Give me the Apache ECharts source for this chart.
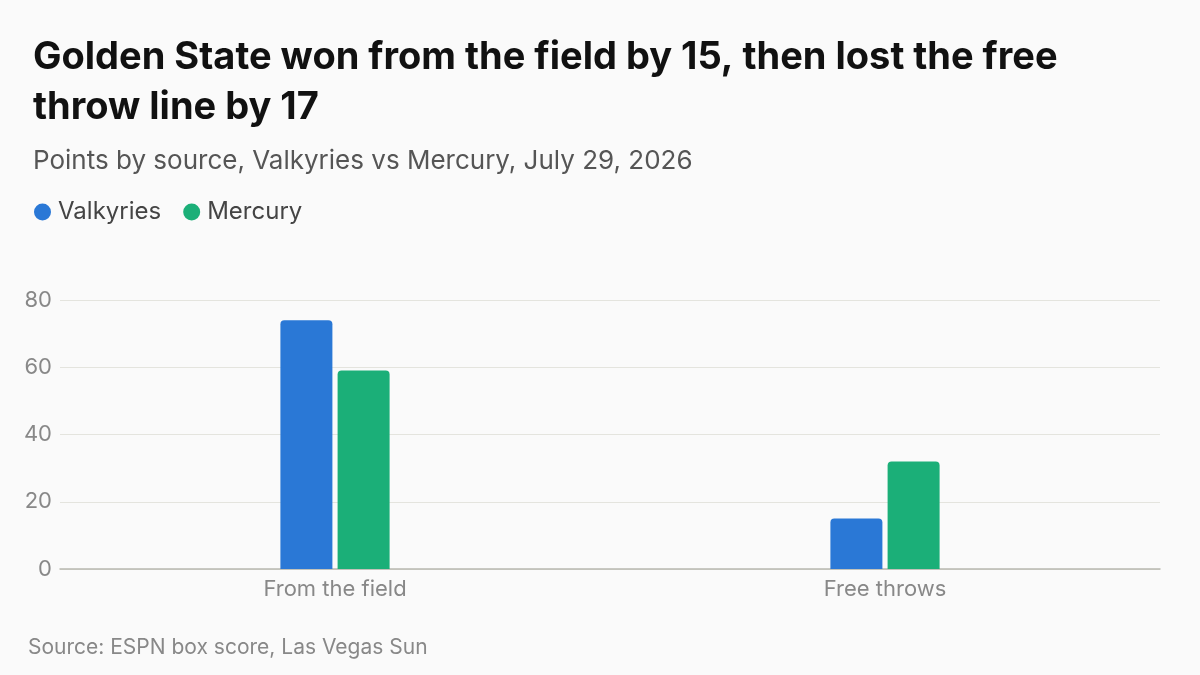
<!DOCTYPE html>
<html><head><meta charset="utf-8">
<script src="https://cdn.jsdelivr.net/npm/echarts@6/dist/echarts.min.js"></script>
<style>html,body{margin:0;padding:0;background:#fafafa;}#c{width:1200px;height:675px;}</style>
</head><body><div id="c"></div>
<script>
const categories = ["From the field", "Free throws"];
const valkyries = [74, 15];
const mercury = [59, 32];
const yTicks = [0, 20, 40, 60, 80];
const FONT = "Inter, 'Noto Sans', sans-serif";
const chart = echarts.init(document.getElementById('c'));
chart.setOption({
  backgroundColor: '#fafafa',
  animation: false,
  title: [
    {text: 'Golden State won from the field by 15, then lost the free\nthrow line by 17', left: 28, top: 28,
     textStyle: {fontFamily: FONT, fontSize: 38, fontWeight: 'bold', color: '#111', lineHeight: 50}},
    {text: 'Points by source, Valkyries vs Mercury, July 29, 2026', left: 28, top: 143,
     textStyle: {fontFamily: FONT, fontSize: 26, fontWeight: 'normal', color: '#555'}},
    {text: 'Source: ESPN box score, Las Vegas Sun', left: 23, top: 632,
     textStyle: {fontFamily: FONT, fontSize: 21, fontWeight: 'normal', color: '#888'}}
  ],
  legend: {left: 29, top: 195, icon: 'circle', itemWidth: 17, itemHeight: 17, itemGap: 22,
    textStyle: {fontFamily: FONT, fontSize: 24, color: '#444', padding: [0,0,0,2]},
    data: ['Valkyries', 'Mercury']},
  grid: {left: 60, right: 40, top: 300, bottom: 106, containLabel: false},
  xAxis: {type: 'category', data: categories,
    axisLine: {lineStyle: {color: '#b8b8b0', width: 1.5}}, axisTick: {show: false},
    axisLabel: {fontFamily: FONT, fontSize: 22, color: '#888', margin: 9}},
  yAxis: {type: 'value', min: yTicks[0], max: yTicks[yTicks.length-1], interval: 20,
    axisLine: {show: false}, axisTick: {show: false},
    splitLine: {lineStyle: {color: '#e4e4de', width: 1}},
    axisLabel: {fontFamily: FONT, fontSize: 22, color: '#888', margin: 8}},
  series: [
    {name: 'Valkyries', type: 'bar', data: valkyries, barWidth: 52, barGap: '10%',
     itemStyle: {color: '#2a78d6', borderRadius: [4,4,0,0]}},
    {name: 'Mercury', type: 'bar', data: mercury, barWidth: 52, barGap: '10%',
     itemStyle: {color: '#1baf78', borderRadius: [4,4,0,0]}}
  ]
});
</script></body></html>
